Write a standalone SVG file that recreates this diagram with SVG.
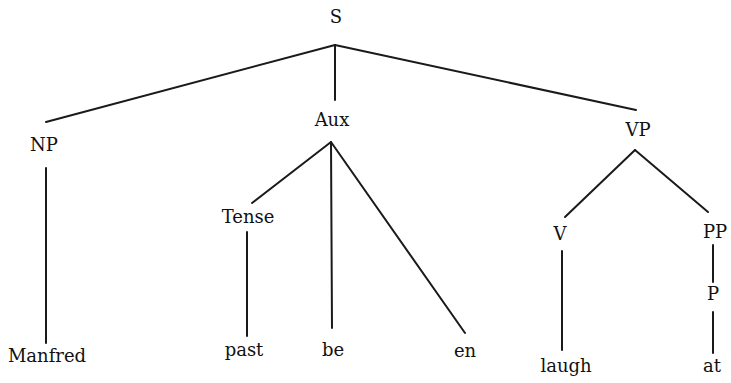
<svg xmlns="http://www.w3.org/2000/svg" width="731" height="383" viewBox="0 0 731 383">
  <style>
    .lbl { font-family: "DejaVu Serif", "Liberation Serif", serif; font-size: 18px; fill: #111111; text-anchor: middle; }
    .edge { stroke: #1a1a1a; stroke-width: 2; stroke-linecap: round; fill: none; }
  </style>
  <rect width="731" height="383" fill="#ffffff"/>

  <!-- tree branches -->
  <g id="connectors">
    <line class="edge" x1="335" y1="45" x2="46" y2="122"/>
    <line class="edge" x1="335" y1="45" x2="335" y2="100"/>
    <line class="edge" x1="335" y1="45" x2="636" y2="110"/>
    <line class="edge" x1="46" y1="168" x2="46" y2="343"/>
    <line class="edge" x1="331" y1="142" x2="252" y2="203"/>
    <line class="edge" x1="331" y1="142" x2="332" y2="328"/>
    <line class="edge" x1="331" y1="142" x2="465" y2="333"/>
    <line class="edge" x1="247" y1="232" x2="247" y2="336"/>
    <line class="edge" x1="635" y1="150" x2="565" y2="217"/>
    <line class="edge" x1="635" y1="150" x2="708" y2="212"/>
    <line class="edge" x1="562" y1="251" x2="562" y2="350"/>
    <line class="edge" x1="713" y1="245" x2="713" y2="282"/>
    <line class="edge" x1="713" y1="312" x2="713" y2="353"/>
  </g>

  <g id="n-S"><text class="lbl" x="336" y="23">S</text></g>
  <g id="n-NP"><text class="lbl" x="44" y="151">NP</text></g>
  <g id="n-Aux"><text class="lbl" x="332" y="126">Aux</text></g>
  <g id="n-VP"><text class="lbl" x="638" y="136">VP</text></g>
  <g id="n-Tense"><text class="lbl" x="248" y="223">Tense</text></g>
  <g id="n-V"><text class="lbl" x="560" y="240">V</text></g>
  <g id="n-PP"><text class="lbl" x="715" y="238">PP</text></g>
  <g id="n-P"><text class="lbl" x="713" y="300">P</text></g>
  <g id="n-Manfred"><text class="lbl" x="47" y="362">Manfred</text></g>
  <g id="n-past"><text class="lbl" x="244" y="356">past</text></g>
  <g id="n-be"><text class="lbl" x="333" y="356">be</text></g>
  <g id="n-en"><text class="lbl" x="465" y="357">en</text></g>
  <g id="n-laugh"><text class="lbl" x="566" y="372">laugh</text></g>
  <g id="n-at"><text class="lbl" x="712" y="372">at</text></g>
</svg>
